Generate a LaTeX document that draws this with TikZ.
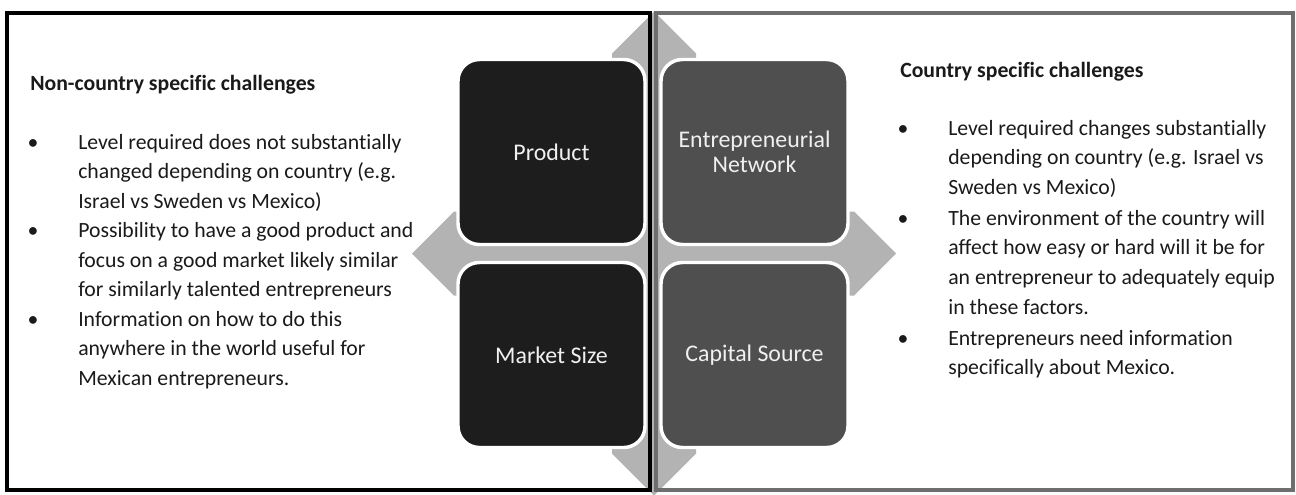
\documentclass[tikz,border=0pt]{standalone}
\usepackage{fontspec}
\setmainfont{Carlito}[Ligatures=NoCommon]

\definecolor{boxdark}{HTML}{1D1D1D}
\definecolor{boxgrey}{HTML}{4F4F4F}
\definecolor{arrowgrey}{HTML}{B3B3B3}
\definecolor{framegrey}{HTML}{6E6E6E}
\definecolor{inkgrey}{HTML}{1A1A1A}

\tikzset{
  factor/.style={rectangle, rounded corners=16pt, draw=white, line width=2.6pt,
    minimum width=140.25pt, minimum height=138.75pt, inner sep=0pt,
    text=white!94!black, align=center, font=\fontsize{17.9}{19}\selectfont},
  heading/.style={anchor=base west, inner sep=0pt, text=inkgrey,
    font=\fontsize{16.3}{22.3}\selectfont\bfseries},
  bulletdot/.style={anchor=base, inner sep=0pt, text=inkgrey,
    font=\fontsize{16.3}{22.3}\selectfont},
  bullettext/.style={anchor=base west, inner sep=0pt, text=inkgrey,
    font=\fontsize{16.3}{22.3}\selectfont},
}

\begin{document}
\begin{tikzpicture}[x=0.75pt, y=-0.75pt]
  \useasboundingbox (0,0) rectangle (1296,494);
  \fill[white] (0,0) rectangle (1296,494);

  % four-way arrow behind the factors
  \fill[arrowgrey] (654,11.5) -- (696,53.5) -- (696,211.5) -- (854,211.5) -- (896,253.5)
    -- (854,295.5) -- (696,295.5) -- (696,453.5) -- (654,495.5) -- (612,453.5)
    -- (612,295.5) -- (454,295.5) -- (412,253.5) -- (454,211.5) -- (612,211.5)
    -- (612,53.5) -- cycle;

  \node[factor, fill=boxdark] (product) at (551.5,152) {Product};
  \node[factor, fill=boxdark] (market) at (551.5,355) {Market Size};
  \node[factor, fill=boxgrey] (network) at (754.5,152) {Entrepreneurial\\Network};
  \node[factor, fill=boxgrey] (capital) at (754.5,355) {Capital Source};

  % the two panels
  \draw[black, line width=2.8pt] (7,13) rectangle (650,490);
  \draw[framegrey, line width=3pt] (655.5,13) rectangle (1293,490);

  % left panel
  \node[heading] (lefthead) at (30,90) {Non-country specific challenges};
  \node[bulletdot] (leftdot1) at (33,149) {•};
  \node[bullettext] (lefttext1) at (78,149) {\parbox[t]{300pt}{\raggedright
    Level required does not substantially\\changed depending on country (e.g.\\Israel vs Sweden vs Mexico)}};
  \node[bulletdot] (leftdot2) at (33,237.5) {•};
  \node[bullettext] (lefttext2) at (78,237.5) {\parbox[t]{300pt}{\raggedright
    Possibility to have a good product and\\focus on a good market likely similar\\for similarly talented entrepreneurs}};
  \node[bulletdot] (leftdot3) at (33,326) {•};
  \node[bullettext] (lefttext3) at (78,326) {\parbox[t]{300pt}{\raggedright
    Information on how to do this\\anywhere in the world useful for\\Mexican entrepreneurs.}};

  % right panel
  \node[heading] (righthead) at (900,77) {Country specific challenges};
  \node[bulletdot] (rightdot1) at (903,135) {•};
  \node[bullettext] (righttext1) at (948,135) {\parbox[t]{300pt}{\raggedright
    Level required changes substantially\\depending on country (e.g. Israel vs\\Sweden vs Mexico)}};
  \node[bulletdot] (rightdot2) at (903,225) {•};
  \node[bullettext] (righttext2) at (948,225) {\parbox[t]{300pt}{\raggedright
    The environment of the country will\\affect how easy or hard will it be for\\an entrepreneur to adequately equip\\in these factors.}};
  \node[bulletdot] (rightdot3) at (903,345) {•};
  \node[bullettext] (righttext3) at (948,345) {\parbox[t]{300pt}{\raggedright
    Entrepreneurs need information\\specifically about Mexico.}};
\end{tikzpicture}
\end{document}
